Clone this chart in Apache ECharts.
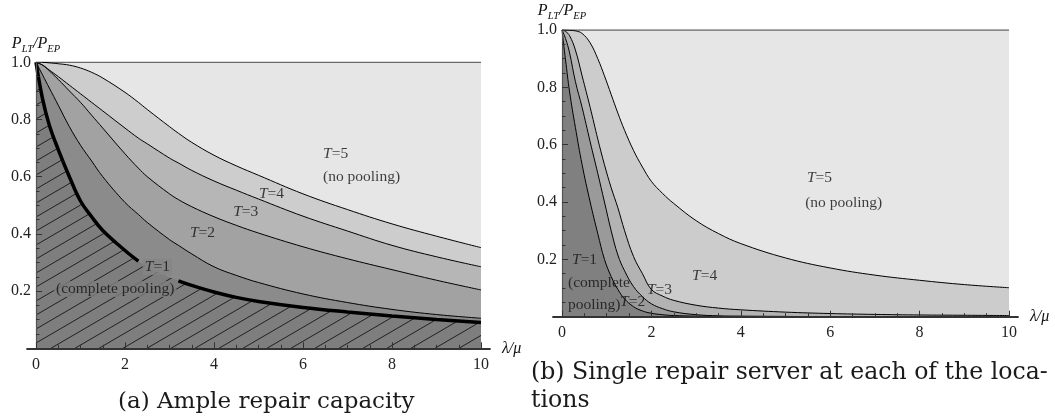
<!DOCTYPE html>
<html><head><meta charset="utf-8">
<script src="https://cdn.jsdelivr.net/npm/echarts@6/dist/echarts.min.js"></script>
<style>html,body{margin:0;padding:0;background:#fff}#c{width:1055px;height:420px}</style>
</head><body><div id="c"></div>
<script>
// ---------- data: panel (a) Ample repair capacity ----------
const xA    = [0, 0.15, 0.3, 0.5, 0.75, 1, 1.25, 1.5, 2, 2.3, 2.5, 3, 3.2, 3.5, 4, 4.5, 5, 6, 7, 8, 9, 10];
const aB1   = [1, 0.87, 0.78, 0.695, 0.6, 0.515, 0.46, 0.412, 0.342, 0.305, 0.285, 0.248, 0.236, 0.22, 0.197, 0.178, 0.164, 0.143, 0.127, 0.113, 0.101, 0.09];
const aB12  = [1, 0.955, 0.91, 0.85, 0.775, 0.71, 0.655, 0.60, 0.51, 0.468, 0.44, 0.38, 0.36, 0.33, 0.285, 0.255, 0.23, 0.19, 0.16, 0.136, 0.118, 0.105];
const aB23  = [1, 0.99, 0.97, 0.94, 0.90, 0.86, 0.815, 0.77, 0.68, 0.63, 0.60, 0.54, 0.52, 0.495, 0.46, 0.43, 0.403, 0.355, 0.313, 0.275, 0.238, 0.204];
const aB34  = [1, 0.99, 0.973, 0.95, 0.92, 0.89, 0.86, 0.83, 0.77, 0.735, 0.715, 0.665, 0.648, 0.622, 0.585, 0.553, 0.522, 0.462, 0.41, 0.36, 0.32, 0.285];
const aB45  = [1, 1, 0.998, 0.995, 0.99, 0.98, 0.965, 0.945, 0.895, 0.86, 0.835, 0.775, 0.752, 0.72, 0.675, 0.638, 0.605, 0.54, 0.485, 0.435, 0.392, 0.352];
const aGap  = [2.3, 3.2];   // thick T=1 boundary interrupted for its label

// ---------- data: panel (b) Single repair server ----------
const xB    = [0, 0.08, 0.17, 0.3, 0.45, 0.63, 0.8, 0.95, 1.1, 1.25, 1.4, 1.6, 1.8, 2, 2.25, 2.5, 3, 3.5, 4, 5, 6, 7, 8, 9, 10];
const bB12  = [1, 0.895, 0.784, 0.66, 0.53, 0.40, 0.29, 0.20, 0.14, 0.095, 0.062, 0.035, 0.02, 0.012, 0.007, 0.004, 0.002, 0.001, 0, 0, 0, 0, 0, 0, 0];
const bB23  = [1, 0.97, 0.92, 0.82, 0.73, 0.61, 0.50, 0.40, 0.30, 0.215, 0.16, 0.105, 0.07, 0.045, 0.028, 0.017, 0.007, 0.003, 0.002, 0.001, 0, 0, 0, 0, 0];
const bB34  = [1, 0.995, 0.98, 0.93, 0.84, 0.73, 0.62, 0.53, 0.45, 0.38, 0.30, 0.21, 0.15, 0.095, 0.072, 0.057, 0.04, 0.03, 0.024, 0.016, 0.011, 0.008, 0.006, 0.005, 0.004];
const bB45  = [1, 1, 0.999, 0.997, 0.988, 0.955, 0.90, 0.84, 0.775, 0.71, 0.65, 0.58, 0.522, 0.472, 0.43, 0.395, 0.335, 0.29, 0.255, 0.205, 0.17, 0.145, 0.127, 0.112, 0.101];

// ---------- ticks / texts ----------
const xTickStep = 2, yTickStep = 0.2;
const yTickLabels = ['0.2', '0.4', '0.6', '0.8', '1.0'];
const captionA = '(a) Ample repair capacity';
const captionB = '(b) Single repair server at each of the loca-\ntions';

const SERIF = "'Liberation Serif','Times New Roman',serif";
const CAPF = "'DejaVu Serif','Liberation Serif',serif";

function pairs(xs, ys) { return xs.map((x, i) => [x, ys[i]]); }
function gapped(xs, ys, g) { return xs.map((x, i) => [x, (x > g[0] && x < g[1]) ? '-' : ys[i]]); }

// hatch pattern
const hatch = document.createElement('canvas');
hatch.width = 24; hatch.height = 14;
(function () {
  const g = hatch.getContext('2d');
  g.fillStyle = '#7e7e7e'; g.fillRect(0, 0, 24, 14);
  g.strokeStyle = '#202020'; g.lineWidth = 1;
  for (let k = -1; k <= 1; k++) { g.beginPath(); g.moveTo(0, 14 + k * 14); g.lineTo(24, k * 14); g.stroke(); }
})();

const SMOOTH = 0.4;
function area(xi, data, fill, lw, lc) {
  return { type: 'line', xAxisIndex: xi, yAxisIndex: xi, data: data, smooth: SMOOTH,
    symbol: 'none', showSymbol: false, silent: true, animation: false,
    lineStyle: { width: lw, color: lc || '#000' }, areaStyle: { color: fill, opacity: 1, origin: 'start' }, z: 2 };
}
function line(xi, data, lw) {
  return { type: 'line', xAxisIndex: xi, yAxisIndex: xi, data: data, smooth: SMOOTH,
    symbol: 'none', showSymbol: false, silent: true, animation: false, connectNulls: false,
    lineStyle: { width: lw, color: '#000' }, z: 3 };
}
const labRich = { i: { fontFamily: SERIF, fontStyle: 'italic', fontSize: 15.5, color: '#111' },
                  r: { fontFamily: SERIF, fontSize: 15.5, color: '#111' } };
function labels(xi, items) {
  return { type: 'scatter', xAxisIndex: xi, yAxisIndex: xi, symbolSize: 0, silent: true, animation: false, z: 6,
    data: items.map(it => ({ value: [it[0], it[1]], label: { show: true, position: 'inside', align: it[3] || 'left',
      verticalAlign: 'middle', formatter: it[2], rich: labRich, fontFamily: SERIF, fontSize: 15.5, color: '#111',
      backgroundColor: it[4] || 'transparent', padding: it[4] ? [0, 2] : 0 } })) };
}
const T = n => '{i|T}{r|=' + n + '}';

function mainX(gi) {
  return { gridIndex: gi, type: 'value', min: 0, max: 10, interval: xTickStep, z: 10,
    axisLine: { show: false }, splitLine: { show: false },
    axisTick: { show: true, inside: true, length: 6, lineStyle: { color: '#333' } },
    minorTick: { show: true, splitNumber: 4, length: 3.5, lineStyle: { color: '#333' } },
    axisLabel: { fontFamily: SERIF, fontSize: 16, color: '#222', margin: 8 } };
}
function mainY(gi) {
  return { gridIndex: gi, type: 'value', min: 0, max: 1, interval: yTickStep, z: 10,
    axisLine: { show: true, lineStyle: { color: '#555', width: 1.2 } }, splitLine: { show: false },
    axisTick: { show: true, inside: true, length: 6, lineStyle: { color: '#333' } },
    minorTick: { show: true, splitNumber: 4, length: 3.5, lineStyle: { color: '#333' } },
    axisLabel: { fontFamily: SERIF, fontSize: 16, color: '#222', margin: 5,
      formatter: v => { const i = Math.round(v / yTickStep) - 1; return i >= 0 ? yTickLabels[i] : ''; } },
    name: '{p|P}{s|LT}{p|/P}{s|EP}', nameLocation: 'end', nameGap: 6,
    nameTextStyle: { align: 'center', rich: {
      p: { fontFamily: SERIF, fontStyle: 'italic', fontSize: 16, color: '#111', lineHeight: 22, verticalAlign: 'middle' },
      s: { fontFamily: SERIF, fontStyle: 'italic', fontSize: 10.5, color: '#111', lineHeight: 12, verticalAlign: 'bottom' } } } };
}
function extX(gi) {
  return { gridIndex: gi, type: 'value', min: -0.2, max: 10.2, z: 11,
    axisLine: { show: true, lineStyle: { color: '#333', width: 2 } },
    axisTick: { show: false }, axisLabel: { show: false }, splitLine: { show: false },
    name: 'λ/μ', nameLocation: 'end', nameGap: 12,
    nameTextStyle: { fontFamily: SERIF, fontStyle: 'italic', fontSize: 16, color: '#111', verticalAlign: 'middle' } };
}
function extY(gi) { return { gridIndex: gi, type: 'value', min: 0, max: 1, show: false }; }

const top1 = [[0, 1], [10, 1]];
const capStyle = { fontFamily: CAPF, fontWeight: 'normal', fontSize: 23, color: '#1a1a1a', lineHeight: 28 };
const capStyleB = { fontFamily: CAPF, fontWeight: 'normal', fontSize: 23.6, color: '#1a1a1a', lineHeight: 28 };

const option = {
  backgroundColor: '#fff',
  animation: false,
  grid: [
    { left: 36, top: 62.3, width: 445, height: 286 },
    { left: 27.1, top: 62.3, width: 462.8, height: 286 },
    { left: 562, top: 30, width: 447, height: 286.7 },
    { left: 553.06, top: 30, width: 464.88, height: 286.7 }
  ],
  xAxis: [mainX(0), extX(1), mainX(2), extX(3)],
  yAxis: [mainY(0), extY(1), mainY(2), extY(3)],
  title: [
    { text: captionA, left: 118, top: 388, padding: 0, textStyle: capStyle },
    { text: captionB, left: 531, top: 359, padding: 0, textStyle: capStyleB }
  ],
  series: [
    // panel (a)
    area(0, top1, '#e6e6e6', 1.6, '#6a6a6a'),
    area(0, pairs(xA, aB45), '#cdcdcd', 1),
    area(0, pairs(xA, aB34), '#b6b6b6', 1),
    area(0, pairs(xA, aB23), '#a2a2a2', 1),
    area(0, pairs(xA, aB12), '#8b8b8b', 1),
    area(0, pairs(xA, aB1), { image: hatch, repeat: 'repeat' }, 0),
    line(0, gapped(xA, aB1, aGap), 3.5),
    labels(0, [
      [2.4, 0.284, T(1), 'left', '#858585'],
      [1.78, 0.207, '(complete pooling)', 'center', '#7e7e7e'],
      [3.46, 0.403, T(2)],
      [4.43, 0.477, T(3)],
      [5.01, 0.54, T(4)],
      [6.45, 0.679, T(5)],
      [6.45, 0.599, '(no pooling)']
    ]),
    // panel (b)
    area(2, top1, '#e6e6e6', 1.6, '#6a6a6a'),
    area(2, pairs(xB, bB45), '#cccccc', 1),
    area(2, pairs(xB, bB34), '#b3b3b3', 1),
    area(2, pairs(xB, bB23), '#9a9a9a', 1),
    area(2, pairs(xB, bB12), '#808080', 1),
    labels(2, [
      [0.224, 0.198, T(1)],
      [0.134, 0.117, '(complete'],
      [0.134, 0.041, 'pooling)'],
      [1.30, 0.051, T(2)],
      [1.90, 0.093, T(3)],
      [2.91, 0.142, T(4)],
      [5.48, 0.483, T(5)],
      [5.44, 0.396, '(no pooling)']
    ])
  ]
};
const chart = echarts.init(document.getElementById('c'), null, { renderer: 'canvas' });
chart.setOption(option);
</script>
</body></html>
